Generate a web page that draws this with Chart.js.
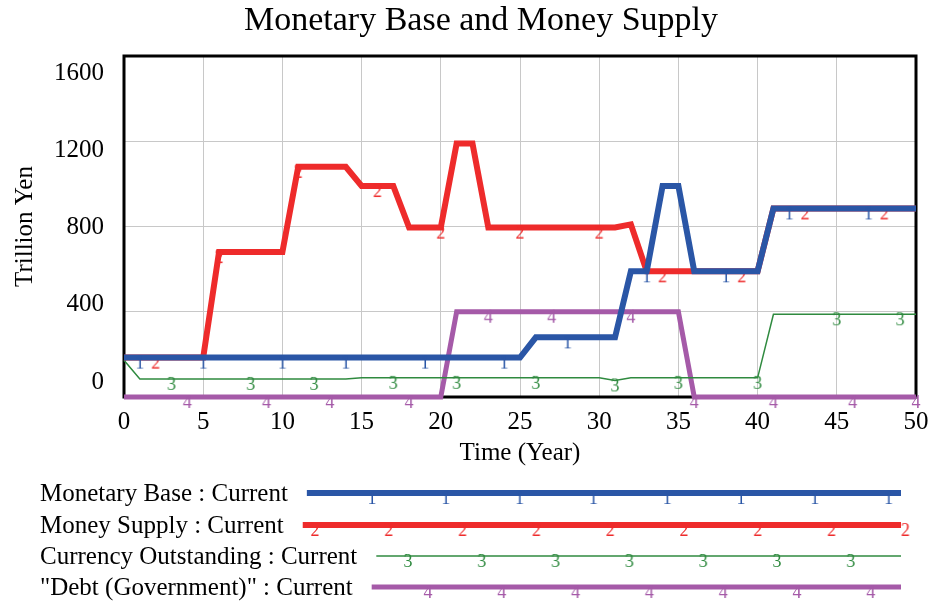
<!DOCTYPE html>
<html>
<head>
<meta charset="utf-8">
<style>
  html, body { margin: 0; padding: 0; background: #fff; }
</style>
</head>
<body>
<canvas id="moneyChart" width="932" height="604"></canvas>

<script src="https://cdn.jsdelivr.net/npm/chart.js"></script>
<script>
(() => {
  // time axis (years) and the four series
  const years = [0,1,2,3,4,5,6,7,8,9,10,11,12,13,14,15,16,17,18,19,20,21,22,23,24,25,
                 26,27,28,29,30,31,32,33,34,35,36,37,38,39,40,41,42,43,44,45,46,47,48,49,50];

  const monetaryBase = [185,185,185,185,185,185,185,185,185,185,185,185,185,185,185,185,185,185,185,185,185,185,185,185,185,185,
                        280,280,280,280,280,280,590,590,990,990,590,590,590,590,590,885,885,885,885,885,885,885,885,885,885];

  const moneySupply = [185,185,185,185,185,185,680,680,680,680,680,1080,1080,1080,1080,990,990,990,795,795,795,1190,1190,
                       795,795,795,795,795,795,795,795,795,810,590,590,590,590,590,590,590,590,885,885,885,885,885,885,885,885,885,885];

  const currency = [172,85,85,85,85,85,85,85,85,85,85,85,85,85,85,90,90,90,90,90,90,90,90,90,90,90,90,90,90,90,90,
                    78,90,90,90,90,90,90,90,90,90,388,388,388,388,388,388,388,388,388,388];

  const debt = [0,0,0,0,0,0,0,0,0,0,0,0,0,0,0,0,0,0,0,0,0,400,400,400,400,400,400,400,400,400,400,400,400,400,400,400,
                0,0,0,0,0,0,0,0,0,0,0,0,0,0,0];

  // years where the series number is printed on the line
  const baseMarks = [1,5,10,14,19,24,28,33,38,42,47];
  const supplyMarks = [2,6,11,16,20,25,30,34,39,43,48];
  const currencyMarks = [3,8,12,17,21,26,31,35,40,45,49];
  const debtMarks = [4,9,13,18,23,27,32,36,41,46,50];

  const yTicks = [0, 400, 800, 1200, 1600];

  const chartTitle = 'Monetary Base and Money Supply';

  const serif = '"Liberation Serif", "Times New Roman", serif';

  function digitMark(d, color) {
    const c = document.createElement('canvas');
    c.width = 16;
    c.height = 40;
    const g = c.getContext('2d');
    g.fillStyle = color;
    g.font = '18px ' + serif;
    g.textAlign = 'center';
    g.textBaseline = 'top';
    g.fillText(String(d), 8, 17);
    return c;
  }

  function series(label, values, marks, digit, color, width) {
    const img = digitMark(digit, color);
    return {
      label: label,
      data: years.map((t, i) => ({ x: t, y: values[i] })),
      borderColor: color,
      backgroundColor: color,
      borderWidth: width,
      tension: 0,
      clip: false,
      pointStyle: img,
      pointRadius: ctx => marks.includes(years[ctx.dataIndex]) ? 5 : 0,
      pointHoverRadius: 0,
      mark: img
    };
  }

  const legendRows = [493, 525, 556, 587];
  const legendFirstMark = [372, 315, 408, 428];

  const frameAndLegend = {
    id: 'frameAndLegend',
    beforeDatasetsDraw(chart) {
      const { ctx, chartArea: a } = chart;
      ctx.save();
      ctx.strokeStyle = '#000';
      ctx.lineWidth = 3;
      ctx.strokeRect(a.left, a.top, a.right - a.left, a.bottom - a.top);

      // vensim keeps the value labels inside the frame height
      const ys = chart.scales.y;
      const h = a.bottom - a.top;
      ctx.font = '25px ' + serif;
      ctx.fillStyle = '#000';
      ctx.textAlign = 'right';
      ctx.textBaseline = 'middle';
      ys.ticks.forEach(t => {
        const p = ys.getPixelForValue(t.value);
        const y = a.top + 17 + (p - a.top) * (h - 32) / h;
        ctx.fillText(String(t.value), a.left - 20, y);
      });

      ctx.font = '34px ' + serif;
      ctx.textAlign = 'center';
      ctx.fillText(chartTitle, 481, 21);
      ctx.restore();
    },
    afterDraw(chart) {
      const ctx = chart.ctx;
      ctx.save();
      chart.data.datasets.forEach((ds, i) => {
        const y = legendRows[i];
        const text = ds.label + ' : Current';
        ctx.font = '25px ' + serif;
        ctx.fillStyle = '#000';
        ctx.textAlign = 'left';
        ctx.textBaseline = 'middle';
        ctx.fillText(text, 40, y + 1);
        const x0 = 40 + ctx.measureText(text).width + 19;
        ctx.strokeStyle = ds.borderColor;
        ctx.lineWidth = ds.borderWidth;
        ctx.beginPath();
        ctx.moveTo(x0, y);
        ctx.lineTo(901, y);
        ctx.stroke();
        for (let x = legendFirstMark[i]; x <= 906; x += 73.8) {
          ctx.drawImage(ds.mark, x - ds.mark.width / 2, y - ds.mark.height / 2);
        }
      });
      ctx.restore();
    }
  };

  const tickFont = { family: serif, size: 25 };

  new Chart(document.getElementById('moneyChart'), {
    type: 'line',
    data: {
      datasets: [
        series('Monetary Base', monetaryBase, baseMarks, 1, '#2a56a6', 6),
        series('Money Supply', moneySupply, supplyMarks, 2, '#ee2b2b', 6),
        series('Currency Outstanding', currency, currencyMarks, 3, '#2f8a3f', 1.5),
        series('"Debt (Government)"', debt, debtMarks, 4, '#a55aa8', 5)
      ]
    },
    options: {
      responsive: false,
      animation: false,
      events: [],
      layout: { padding: { top: 56, left: 0, right: 16, bottom: 133 } },
      plugins: {
        legend: { display: false },
        tooltip: { enabled: false },
        title: { display: false }
      },
      scales: {
        x: {
          type: 'linear',
          min: 0,
          max: 50,
          ticks: { stepSize: 5, padding: 10, color: '#000', font: tickFont, maxRotation: 0 },
          grid: { color: '#c8c8c8', drawTicks: false },
          border: { display: false },
          title: { display: true, text: 'Time (Year)', color: '#000', font: tickFont, padding: { top: 0, bottom: 3 } },
          afterFit(scale) {
            scale.height = 74;
            scale.paddingRight = 0;
          }
        },
        y: {
          min: 0,
          max: 1600,
          afterBuildTicks(scale) { scale.ticks = yTicks.map(v => ({ value: v })); },
          ticks: { display: false },
          grid: { color: '#c8c8c8', drawTicks: false },
          border: { display: false },
          title: { display: true, text: 'Trillion Yen', color: '#000', font: tickFont, padding: { top: 10, bottom: 0 } },
          afterFit(scale) { scale.width = 124; }
        }
      }
    },
    plugins: [frameAndLegend]
  });
})();
</script>
</body>
</html>
